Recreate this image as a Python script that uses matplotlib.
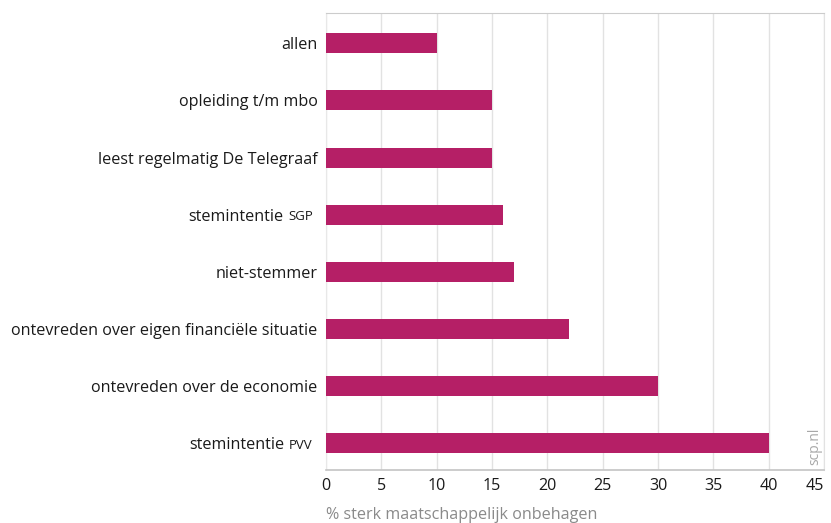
import matplotlib
matplotlib.use("Agg")
import matplotlib.pyplot as plt
from matplotlib.transforms import blended_transform_factory, offset_copy

plt.rcParams['font.family'] = ['Open Sans', 'DejaVu Sans']

categories = ["allen", "opleiding t/m mbo", "leest regelmatig De Telegraaf",
              "stemintentie SGP", "niet-stemmer",
              "ontevreden over eigen financiële situatie",
              "ontevreden over de economie", "stemintentie PVV"]
values = [10, 15, 15, 16, 17, 22, 30, 40]
xticks = [0, 5, 10, 15, 20, 25, 30, 35, 40, 45]
xlabel = "% sterk maatschappelijk onbehagen"

BAR = "#B51F66"
FS = 11.6

fig = plt.figure(figsize=(8.31, 5.23), dpi=100)
ax = fig.add_axes([326/831, 1-470/523, (824-326)/831, (470-13)/523])

n = len(categories)
ypos = list(range(n - 1, -1, -1))
ax.barh(ypos, values, height=0.35, color=BAR, zorder=3)
ax.set_xlim(0, 45)
ax.set_ylim(-0.47, n - 0.47)
ax.set_xticks(xticks)
xtl = ax.set_xticklabels([str(t) for t in xticks], fontsize=FS, color="#1a1a1a")
xtl[-1].set_horizontalalignment('right')
ax.tick_params(axis='both', length=0)
ax.tick_params(axis='x', pad=6)
ax.xaxis.grid(True, color="#e2e2e2", linewidth=1, zorder=0)
ax.set_axisbelow(True)
ax.spines["top"].set_color("#cccccc")
ax.spines["right"].set_color("#e2e2e2")
ax.spines["left"].set_color("#e8e8e8")
ax.spines["bottom"].set_color("#c4c4c4")
ax.spines["bottom"].set_linewidth(1.2)

ax.set_xlabel(xlabel, fontsize=FS, color="#8a8a8a", loc="left", labelpad=9)

# y labels; acronyms in small caps
base_pad = 6
ax.set_yticks(ypos)
labels = []
acr = {}
for i, c in enumerate(categories):
    parts = c.rsplit(" ", 1)
    if len(parts) == 2 and parts[1].isupper() and len(parts[1]) == 3:
        labels.append(parts[0])
        acr[i] = parts[1]
    else:
        labels.append(c)
ax.set_yticklabels(labels, fontsize=FS, color="#1a1a1a")
ax.tick_params(axis='y', pad=base_pad)

fig.canvas.draw()
renderer = fig.canvas.get_renderer()
trans = blended_transform_factory(ax.transAxes, ax.transData)
ticks = ax.yaxis.get_major_ticks()
extra = 3.5
for i, a in acr.items():
    t = ax.text(0, ypos[i], a, fontsize=FS * 0.82, color="#1a1a1a",
                ha='right', va='baseline',
                transform=offset_copy(trans, fig=fig, x=-(base_pad + extra),
                                      y=-FS * 0.36, units='points'))
    w = t.get_window_extent(renderer).width * 72 / fig.dpi
    ticks[i].set_pad(base_pad + extra + w + 3.5)

ax.text(0.982, 0.01, "scp.nl", transform=ax.transAxes, rotation=90,
        fontsize=10, color="#a8a8a8", ha='center', va='bottom')

fig.savefig("out.png", dpi=100)
